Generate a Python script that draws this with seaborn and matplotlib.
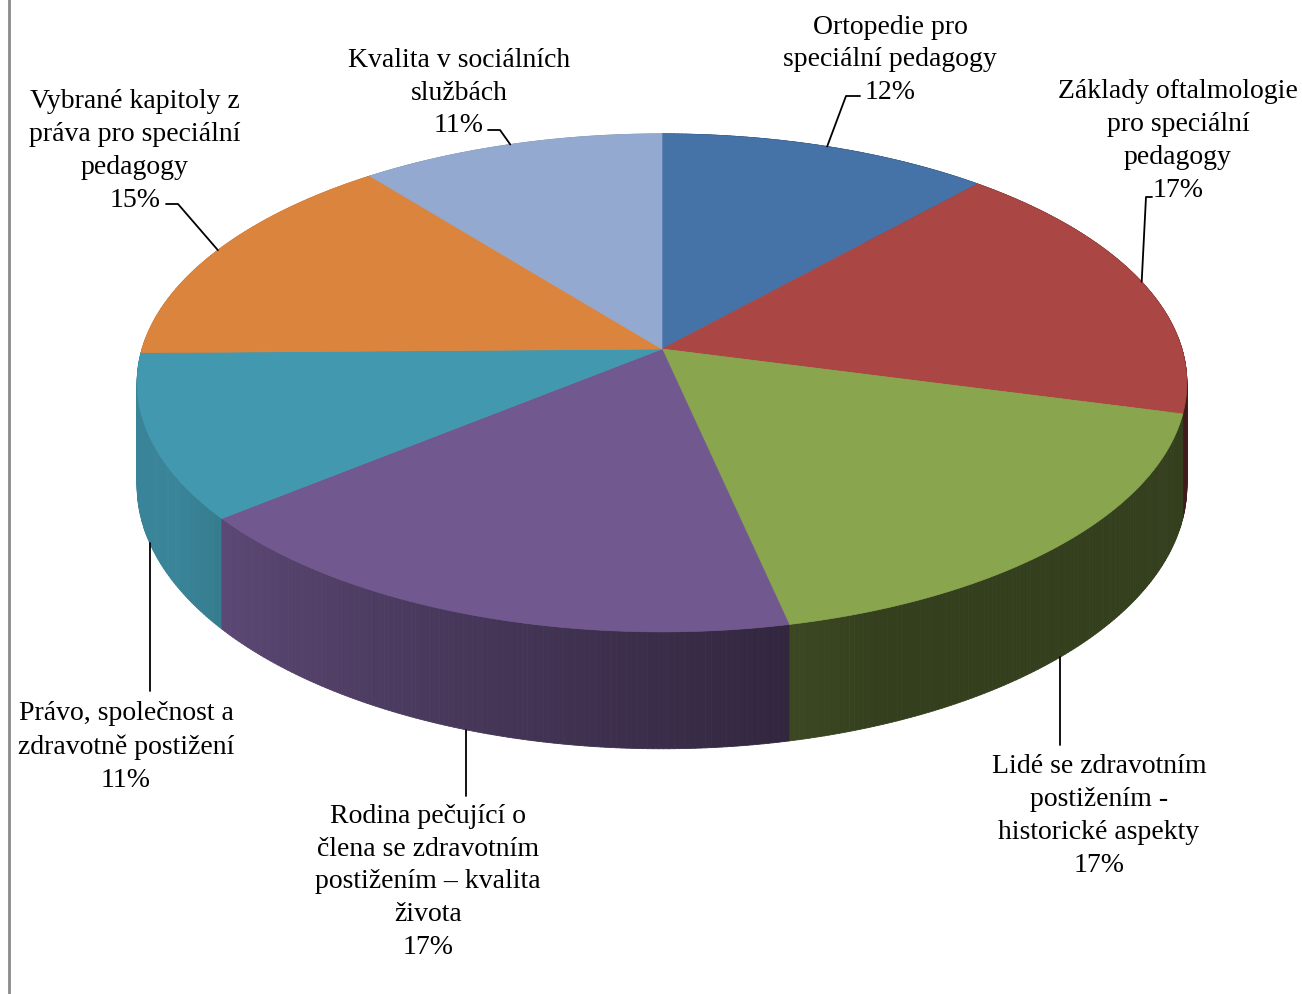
import numpy as np
import seaborn as sns
import matplotlib
matplotlib.use('Agg')
import matplotlib.pyplot as plt
from matplotlib.collections import PolyCollection

# Chart data (counts; labels show rounded percentages)
labels = [
    "Ortopedie pro\nspeciální pedagogy",
    "Základy oftalmologie\npro speciální\npedagogy",
    "Lidé se zdravotním\npostižením -\nhistorické aspekty",
    "Rodina pečující o\nčlena se zdravotním\npostižením – kvalita\nživota",
    "Právo, společnost a\nzdravotně postižení",
    "Vybrané kapitoly z\npráva pro speciální\npedagogy",
    "Kvalita v sociálních\nslužbách",
]
counts = [12, 18, 18, 18, 11, 15, 11]
colors = ["#4572A7", "#AA4643", "#89A54E", "#71588F", "#4198AF", "#DB843D", "#93A9CF"]

sns.set_theme(style="white")
plt.rcParams['font.family'] = ['Liberation Serif', 'DejaVu Serif']
palette = sns.color_palette(colors)

# 3D pie projection (pixel space)
CX, CY = 662, 350
A, B = 520, 244.4
K = 0.136
H = 101


def rim(theta, drop=0.0):
    t = np.radians(theta)
    X, Z = np.sin(t), np.cos(t)
    s = 1.0 / (1.0 + K * Z)
    return CX + A * X * s, CY - B * Z * s + drop * s


def shade(theta):
    return float(np.clip(0.45 + (theta - 170) * 0.006, 0.38, 0.87))


fig = plt.figure(figsize=(13.02, 9.95), dpi=100)
ax = fig.add_axes([0, 0, 1, 1])
ax.set_xlim(0, 1302)
ax.set_ylim(995, 0)
ax.axis('off')

total = sum(counts)
pcts = [round(100 * c / total) for c in counts]
bounds = np.concatenate([[0], np.cumsum(counts)]) / total * 360.0

# side walls, back to front
quads, qcols, depth = [], [], []
for i in range(len(counts)):
    th = np.linspace(bounds[i], bounds[i + 1], max(int((bounds[i + 1] - bounds[i]) * 2), 2) + 1)
    base = np.array(palette[i])
    for a0, a1 in zip(th[:-1], th[1:]):
        x0, y0 = rim(a0)
        x1, y1 = rim(a1)
        x2, y2 = rim(a1, H)
        x3, y3 = rim(a0, H)
        quads.append([(x0, y0), (x1, y1), (x2, y2), (x3, y3)])
        qcols.append(tuple(base * shade((a0 + a1) / 2)))
        depth.append(np.cos(np.radians((a0 + a1) / 2)))
order = np.argsort(depth)[::-1]
side = PolyCollection([quads[j] for j in order], facecolors=[qcols[j] for j in order],
                      edgecolors=[qcols[j] for j in order], linewidths=0.6)
ax.add_collection(side)

# top face
for i in range(len(counts)):
    th = np.linspace(bounds[i], bounds[i + 1], 200)
    xs, ys = rim(th)
    pts = np.column_stack([np.r_[CX, xs], np.r_[CY, ys]])
    ax.add_patch(plt.Polygon(pts, closed=True, facecolor=palette[i],
                             edgecolor=palette[i], linewidth=0.5))

# labels and leader lines
label_pos = [(890, 60), (1178, 141), (1099, 816), (428, 882), (126, 747), (135, 151), (459, 93)]
front = [False, False, True, True, True, False, False]
leader_end = [
    [(846, 97), (860, 97)],
    [(1146, 198), (1152, 198)],
    [(None, 746)],
    [(None, 797)],
    [(None, 692)],
    [(178, 205), (166, 205)],
    [(500, 131), (488, 131)],
]
for i, lab in enumerate(labels):
    mid = (bounds[i] + bounds[i + 1]) / 2
    sx, sy = rim(mid, H if front[i] else 0)
    pts = [(sx, sy)] + [(sx if px is None else px, py) for px, py in leader_end[i]]
    ax.plot([p[0] for p in pts], [p[1] for p in pts], color='black', lw=1.3)
    ax.text(label_pos[i][0], label_pos[i][1], f"{lab}\n{pcts[i]}%",
            ha='center', va='center', multialignment='center',
            fontsize=20, linespacing=1.41, color='black')

# chart frame on the left
ax.plot([9, 9], [0, 995], color='#8a8a8a', lw=2)

fig.savefig('out.png', dpi=100)
